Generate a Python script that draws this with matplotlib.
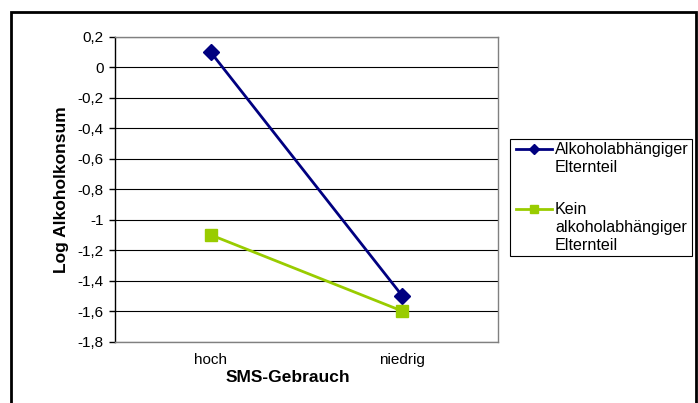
import matplotlib
matplotlib.use("Agg")
import matplotlib.pyplot as plt
from matplotlib.patches import Rectangle
from matplotlib.lines import Line2D
import numpy as np

plt.rcParams['font.family'] = ['Liberation Sans', 'DejaVu Sans']

categories = ["hoch", "niedrig"]
series_names = [["Alkoholabhängiger", "Elternteil"], ["Kein", "alkoholabhängiger", "Elternteil"]]
alk_values = [0.1, -1.5]
kein_values = [-1.1, -1.6]
yticks = [0.2, 0, -0.2, -0.4, -0.6, -0.8, -1, -1.2, -1.4, -1.6, -1.8]
colors = ['#000080', '#99CC00']
markers = ['D', 's']

W, H = 698, 403
fig = plt.figure(figsize=(W / 100, H / 100), dpi=100)

def fx(px):
    return px / W

def fy(py):
    return 1 - py / H

# outer border
fig.patches.append(Rectangle((fx(11), -0.05), fx(696 - 11), 1.05 - 12 / H,
                             transform=fig.transFigure, fill=False,
                             edgecolor='black', linewidth=2))

left, right, top, bottom = 115, 498, 37, 341.5
ax = fig.add_axes([fx(left), fy(bottom), fx(right - left), (bottom - top) / H])

x = np.arange(len(categories))
ax.plot(x, alk_values, color=colors[0], marker=markers[0], markersize=8.5, linewidth=2)
ax.plot(x, kein_values, color=colors[1], marker=markers[1], markersize=9, linewidth=2)

ax.set_xlim(-0.5, 1.5)
ax.set_ylim(-1.8, 0.2)
ax.set_yticks(yticks)
ax.set_yticklabels([("%g" % v).replace('.', ',') for v in yticks], fontsize=11)
ax.set_xticks(x)
ax.set_xticklabels(categories, fontsize=11)
ax.tick_params(axis='x', length=0, pad=8)
ax.tick_params(axis='y', length=4, width=1, direction='out', pad=4)
ax.grid(axis='y', color='black', linewidth=0.8)
ax.set_axisbelow(True)
for s in ['top', 'right', 'bottom']:
    ax.spines[s].set_color('#808080')
    ax.spines[s].set_linewidth(1)
ax.spines['left'].set_color('black')
ax.spines['left'].set_linewidth(1)

ax.set_xlabel("SMS-Gebrauch", fontsize=12.5, fontweight='bold')
ax.xaxis.set_label_coords((288 - left) / (right - left), -(378 - bottom) / (bottom - top))
ax.xaxis.label.set_va('center')
ax.set_ylabel("Log Alkoholkonsum", fontsize=12.5, fontweight='bold', labelpad=6)

# legend (Excel style: handle aligned with first text line)
fig.patches.append(Rectangle((fx(510), fy(256)), fx(692 - 510), (256 - 139) / H,
                             transform=fig.transFigure, fill=False,
                             edgecolor='black', linewidth=0.8))
entry_tops = [149, 209]
line_step = 18.5
msizes = [5.5, 6]
for i, (names, top_y) in enumerate(zip(series_names, entry_tops)):
    fig.add_artist(Line2D([fx(516), fx(552)], [fy(top_y), fy(top_y)],
                          transform=fig.transFigure, color=colors[i], linewidth=2))
    fig.add_artist(Line2D([fx(534)], [fy(top_y)], transform=fig.transFigure,
                          color=colors[i], marker=markers[i], markersize=msizes[i],
                          linestyle='none'))
    for j, nm in enumerate(names):
        fig.text(fx(555), fy(top_y + j * line_step), nm, fontsize=11.6,
                 ha='left', va='center')

fig.savefig("out.png", dpi=100)
